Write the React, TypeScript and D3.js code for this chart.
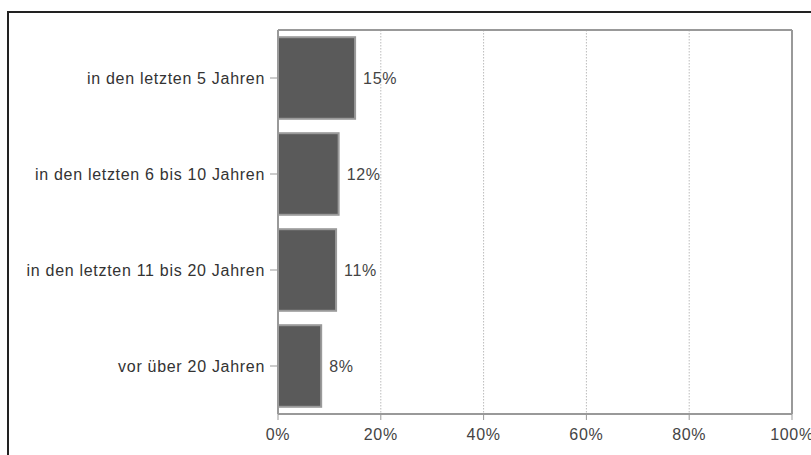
import React from "react";
import * as d3 from "d3";

const categories = [
  "in den letzten 5 Jahren",
  "in den letzten 6 bis 10 Jahren",
  "in den letzten 11 bis 20 Jahren",
  "vor über 20 Jahren",
];
const values = [15, 11.8, 11.3, 8.4];
const valueLabels = ["15%", "12%", "11%", "8%"];
const xTicks = [0, 20, 40, 60, 80, 100];

export default function App() {
  const W = 811, H = 455;
  const left = 278, right = 792, top = 30, bottom = 414;
  const x = d3.scaleLinear().domain([0, 100]).range([left, right]);
  const y = d3.scaleBand<string>().domain(categories).range([top, bottom]).paddingInner(0.15).paddingOuter(0.075);
  const font = "Liberation Sans, Arial, sans-serif";
  const fs = 16;
  const ls = 0.7;
  return (
    <svg width={W} height={H} style={{ position: "absolute", left: 0, top: 0 }}>
      <rect x={0} y={0} width={W} height={H} fill="#fff" />
      <rect x={8} y={12} width={W + 10} height={H + 10} fill="none" stroke="#222" strokeWidth={2} />
      {xTicks.slice(1, -1).map((t) => (
        <line key={t} x1={x(t)} x2={x(t)} y1={top} y2={bottom} stroke="#bbb" strokeWidth={1} strokeDasharray="1.5,1.5" />
      ))}
      <line x1={left} x2={right} y1={top} y2={top} stroke="#999" strokeWidth={2} />
      <line x1={right} x2={right} y1={top} y2={bottom} stroke="#999" strokeWidth={2} />
      <line x1={left} x2={right} y1={bottom} y2={bottom} stroke="#999" strokeWidth={2} />
      <line x1={left} x2={left} y1={top} y2={bottom} stroke="#999" strokeWidth={2} />
      {categories.map((c, i) => {
        const by = y(c)!;
        const bh = y.bandwidth();
        return (
          <g key={c}>
            <rect x={x(0)} y={by} width={x(values[i]) - x(0)} height={bh} fill="#5a5a5a" stroke="#9a9a9a" strokeWidth={2} />
            <line x1={left - 8} x2={left} y1={by + bh / 2} y2={by + bh / 2} stroke="#999" />
            <text x={left - 13} y={by + bh / 2} dy="0.35em" textAnchor="end" fontFamily={font} fontSize={fs} letterSpacing={ls} fill="#333">{c}</text>
            <text x={x(values[i]) + 8} y={by + bh / 2} dy="0.35em" fontFamily={font} fontSize={fs} letterSpacing={ls} fill="#444">{valueLabels[i]}</text>
          </g>
        );
      })}
      {xTicks.map((t) => (
        <g key={t}>
          <line x1={x(t)} x2={x(t)} y1={bottom} y2={bottom + 6} stroke="#999" />
          <text x={x(t)} y={bottom + 26} textAnchor="middle" fontFamily={font} fontSize={fs} letterSpacing={ls} fill="#444">{t + "%"}</text>
        </g>
      ))}
    </svg>
  );
}
